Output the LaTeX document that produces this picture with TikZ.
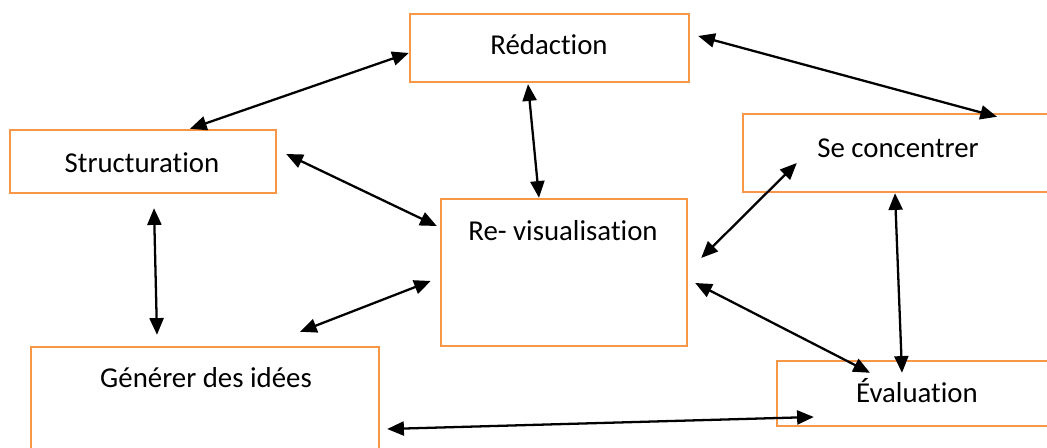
\documentclass[tikz,border=0pt]{standalone}
\usepackage{fontspec}
\setmainfont[Ligatures=NoCommon]{Carlito}
\usepackage{tikz}
\usetikzlibrary{arrows.meta,positioning,calc}
\definecolor{boxorange}{RGB}{247,150,70}
\tikzset{
  stepbox/.style={rectangle,draw=boxorange,line width=1.4pt,fill=none,inner sep=0pt},
  boxtext/.style={font=\fontsize{16.4}{19}\selectfont,text=black,inner sep=0pt},
  link/.style={{Triangle[length=9.5pt,width=8pt]}-{Triangle[length=9.5pt,width=8pt]},line width=1.3pt,draw=black}
}
\begin{document}
\begin{tikzpicture}[x=0.02cm,y=-0.02cm]

  \useasboundingbox (0,0) rectangle (1047,448);
  \clip (0,0) rectangle (1047,448);

  % boxes
  \node[stepbox,minimum width=5.58cm,minimum height=1.36cm] (redac) at (549.5,48) {};
  \node[stepbox,minimum width=5.32cm,minimum height=1.26cm] (struct) at (143,161.5) {};
  \node[stepbox,minimum width=6.2cm,minimum height=1.56cm] (concent) at (898,153) {};
  \node[stepbox,minimum width=4.92cm,minimum height=2.94cm] (revis) at (564,272.5) {};
  \node[stepbox,minimum width=6.96cm,minimum height=2.4cm] (gener) at (205,407) {};
  \node[stepbox,minimum width=5.6cm,minimum height=1.3cm] (evalu) at (917,393.5) {};

  % labels
  \node[boxtext] (redacT) at (549,45) {Rédaction};
  \node[boxtext] (structT) at (142,163) {Structuration};
  \node[boxtext] (concentT) at (898,148) {Se concentrer};
  \node[boxtext] (revisT) at (563,231) {Re- visualisation};
  \node[boxtext] (generT) at (206,378) {Générer des idées};
  \node[boxtext] (evaluT) at (917,391) {Évaluation};

  % connectors
  \draw[link] ($(struct.north)+(47,0)$) -- ($(redac.west)+(0,5)$);
  \draw[link] ($(redac.east)+(8,-12)$) -- ($(concent.north)+(99,4)$);
  \draw[link] ($(redac.south)+(-21.5,1)$) -- ($(revis.north)+(-25,0)$);
  \draw[link] ($(struct.east)+(9,-7.5)$) -- ($(revis.west)+(-3,-46.5)$);
  \draw[link] ($(struct.south)+(11,14)$) -- ($(gener.north)+(-48,-11)$);
  \draw[link] ($(gener.north)+(95,-14)$) -- ($(revis.west)+(-9,8.5)$);
  \draw[link] ($(revis.east)+(13,-14.5)$) -- ($(concent.west)+(55,10)$);
  \draw[link] ($(revis.east)+(7,10.5)$) -- ($(evalu.north)+(-47,13)$);
  \draw[link] ($(concent.south)+(-3,0)$) -- ($(evalu.north)+(-15,13)$);
  \draw[link] ($(gener.east)+(7,22)$) -- ($(evalu.west)+(38,23.5)$);

\end{tikzpicture}
\end{document}
